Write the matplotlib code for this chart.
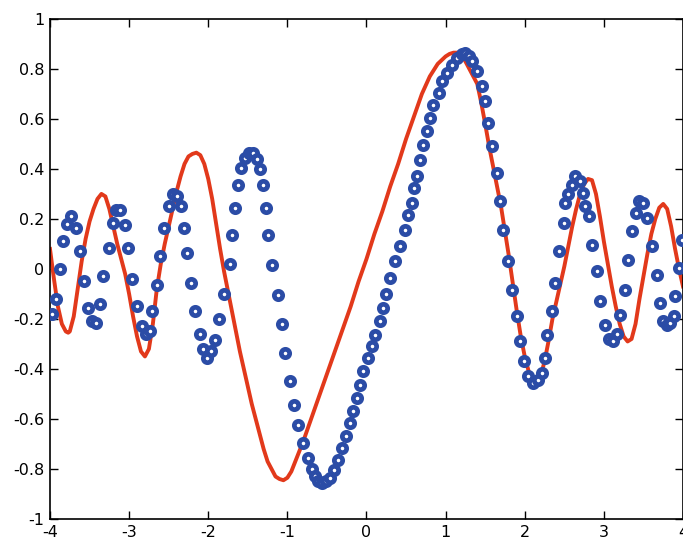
import matplotlib
matplotlib.use("Agg")
import matplotlib.pyplot as plt

# Red curve
red_x = [-4.0, -3.95, -3.9, -3.85, -3.8, -3.77, -3.75, -3.7, -3.65, -3.6, -3.55, -3.5, -3.45, -3.4,
         -3.35, -3.3, -3.25, -3.2, -3.15, -3.1, -3.05, -3.0, -2.95, -2.9, -2.85, -2.8, -2.75, -2.7,
         -2.65, -2.6, -2.55, -2.5, -2.45, -2.4, -2.35, -2.3, -2.25, -2.2, -2.15, -2.1, -2.05, -2.0,
         -1.95, -1.9, -1.85, -1.8, -1.75, -1.7, -1.65, -1.6, -1.55, -1.5, -1.45, -1.4, -1.35, -1.3,
         -1.25, -1.2, -1.15, -1.1, -1.05, -1.0, -0.95, -0.9, -0.85, -0.8, -0.7, -0.6, -0.5, -0.4,
         -0.3, -0.2, -0.1, 0.0, 0.1, 0.2, 0.3, 0.4, 0.5, 0.6, 0.7, 0.8, 0.9, 1.0, 1.05, 1.1, 1.15,
         1.2, 1.25, 1.3, 1.35, 1.4, 1.45, 1.5, 1.55, 1.6, 1.65, 1.7, 1.75, 1.8, 1.85, 1.9, 1.95,
         2.0, 2.05, 2.1, 2.15, 2.2, 2.25, 2.3, 2.35, 2.4, 2.45, 2.5, 2.55, 2.6, 2.65, 2.7, 2.75,
         2.8, 2.85, 2.9, 2.95, 3.0, 3.05, 3.1, 3.15, 3.2, 3.25, 3.3, 3.35, 3.4, 3.45, 3.5, 3.55,
         3.6, 3.65, 3.7, 3.75, 3.8, 3.85, 3.9, 3.95, 4.0]
red_y = [0.08, -0.04, -0.15, -0.22, -0.25, -0.255, -0.25, -0.19, -0.08, 0.03, 0.12, 0.19, 0.24, 0.28,
         0.30, 0.29, 0.24, 0.17, 0.10, 0.04, -0.02, -0.10, -0.19, -0.27, -0.33, -0.35, -0.32, -0.22,
         -0.08, 0.02, 0.10, 0.17, 0.24, 0.31, 0.37, 0.42, 0.45, 0.46, 0.465, 0.455, 0.42, 0.36,
         0.28, 0.18, 0.08, -0.01, -0.09, -0.17, -0.25, -0.33, -0.40, -0.47, -0.54, -0.60, -0.66, -0.72,
         -0.77, -0.80, -0.83, -0.84, -0.845, -0.835, -0.81, -0.77, -0.73, -0.69, -0.60, -0.51, -0.42, -0.33,
         -0.24, -0.15, -0.05, 0.04, 0.14, 0.23, 0.33, 0.42, 0.52, 0.61, 0.70, 0.77, 0.82, 0.85, 0.86, 0.865, 0.865,
         0.855, 0.83, 0.80, 0.77, 0.74, 0.665, 0.58, 0.49, 0.41, 0.33, 0.25, 0.15, 0.05, -0.06, -0.17, -0.27,
         -0.35, -0.41, -0.445, -0.455, -0.43, -0.37, -0.29, -0.20, -0.13, -0.06, 0.01, 0.09, 0.17, 0.24, 0.30, 0.34,
         0.36, 0.355, 0.30, 0.21, 0.11, 0.02, -0.07, -0.15, -0.22, -0.27, -0.29, -0.28, -0.22, -0.12, -0.03, 0.06,
         0.14, 0.20, 0.245, 0.26, 0.24, 0.17, 0.08, 0.0, -0.07]

# Blue circle markers
blue_x = [-3.98, -3.92, -3.87, -3.83, -3.78, -3.73, -3.67, -3.62, -3.57, -3.52, -3.47, -3.42, -3.37,
          -3.33, -3.26, -3.20, -3.16, -3.11, -3.05, -3.01, -2.96, -2.90, -2.84, -2.79, -2.74, -2.71,
          -2.65, -2.61, -2.56, -2.50, -2.44, -2.39, -2.34, -2.31, -2.27, -2.22, -2.17, -2.10, -2.06,
          -2.01, -1.96, -1.91, -1.86, -1.80, -1.73, -1.70, -1.66, -1.62, -1.58, -1.53, -1.48, -1.43,
          -1.38, -1.345, -1.31, -1.27, -1.24, -1.19, -1.12, -1.07, -1.03, -0.97, -0.91, -0.86, -0.80,
          -0.74, -0.69, -0.65, -0.61, -0.56, -0.51, -0.46, -0.41, -0.36, -0.31, -0.26, -0.21, -0.17,
          -0.125, -0.08, -0.04, 0.02, 0.066, 0.11, 0.17, 0.21, 0.25, 0.298, 0.361, 0.425, 0.488, 0.53,
          0.573, 0.60, 0.636, 0.678, 0.72, 0.762, 0.804, 0.846, 0.91, 0.952, 1.015, 1.078, 1.14, 1.205,
          1.25, 1.29, 1.33, 1.395, 1.46, 1.50, 1.54, 1.585, 1.65, 1.69, 1.73, 1.79, 1.84, 1.90, 1.94,
          1.985, 2.047, 2.11, 2.17, 2.215, 2.26, 2.28, 2.34, 2.38, 2.43, 2.49, 2.51, 2.55, 2.595, 2.64,
          2.70, 2.74, 2.76, 2.81, 2.85, 2.91, 2.95, 3.02, 3.06, 3.11, 3.16, 3.21, 3.27, 3.31, 3.35,
          3.40, 3.44, 3.49, 3.54, 3.605, 3.67, 3.71, 3.75, 3.80, 3.84, 3.88, 3.90, 3.945, 3.99]
blue_y = [-0.18, -0.12, 0.0, 0.11, 0.18, 0.21, 0.165, 0.07, -0.05, -0.155, -0.21, -0.215, -0.14,
          -0.03, 0.083, 0.183, 0.235, 0.235, 0.176, 0.083, -0.04, -0.15, -0.23, -0.26, -0.25, -0.17,
          -0.064, 0.05, 0.163, 0.25, 0.30, 0.29, 0.25, 0.165, 0.063, -0.057, -0.17, -0.26, -0.32,
          -0.355, -0.33, -0.285, -0.20, -0.10, 0.02, 0.135, 0.243, 0.336, 0.405, 0.445, 0.465, 0.465,
          0.44, 0.40, 0.335, 0.243, 0.136, 0.016, -0.104, -0.222, -0.337, -0.45, -0.544, -0.624, -0.697,
          -0.757, -0.80, -0.83, -0.847, -0.855, -0.85, -0.835, -0.805, -0.764, -0.717, -0.667, -0.617, -0.57,
          -0.517, -0.464, -0.41, -0.357, -0.31, -0.265, -0.21, -0.157, -0.10, -0.037, 0.03, 0.09, 0.156, 0.216,
          0.263, 0.323, 0.37, 0.436, 0.496, 0.55, 0.603, 0.656, 0.703, 0.75, 0.783, 0.816, 0.843, 0.86,
          0.865, 0.85, 0.83, 0.79, 0.73, 0.67, 0.583, 0.49, 0.383, 0.27, 0.156, 0.03, -0.084, -0.19, -0.29,
          -0.37, -0.43, -0.457, -0.444, -0.417, -0.357, -0.264, -0.17, -0.057, 0.07, 0.183, 0.263, 0.30, 0.336, 0.37,
          0.35, 0.303, 0.25, 0.21, 0.096, -0.01, -0.13, -0.225, -0.28, -0.29, -0.26, -0.184, -0.084, 0.036, 0.15,
          0.223, 0.27, 0.263, 0.203, 0.09, -0.024, -0.137, -0.21, -0.225, -0.217, -0.19, -0.11, 0.003, 0.116]

x_ticks = [-4, -3, -2, -1, 0, 1, 2, 3, 4]
y_ticks = [-1, -0.8, -0.6, -0.4, -0.2, 0, 0.2, 0.4, 0.6, 0.8, 1]
y_tick_labels = ["-1", "-0.8", "-0.6", "-0.4", "-0.2", "0", "0.2", "0.4", "0.6", "0.8", "1"]

fig = plt.figure(figsize=(6.83, 5.43), dpi=100)
ax = fig.add_axes([0.0732, 0.0442, 0.9268, 0.921])

ax.plot(red_x, red_y, color="#e2391b", linewidth=2.8, zorder=2)
ax.plot(blue_x, blue_y, linestyle="none", marker="o", markersize=6.0,
        markerfacecolor="white", markeredgecolor="#2b4ca6", markeredgewidth=3.4, zorder=3)

ax.set_xlim(-4, 4)
ax.set_ylim(-1, 1)
ax.set_xticks(x_ticks)
ax.set_xticklabels([str(t) for t in x_ticks])
ax.set_yticks(y_ticks)
ax.set_yticklabels(y_tick_labels)
ax.tick_params(direction="in", top=True, right=True, length=6, width=1, labelsize=11.5,
               colors="black", pad=4)
for s in ax.spines.values():
    s.set_linewidth(1.2)

fig.savefig("out.png", dpi=100)
